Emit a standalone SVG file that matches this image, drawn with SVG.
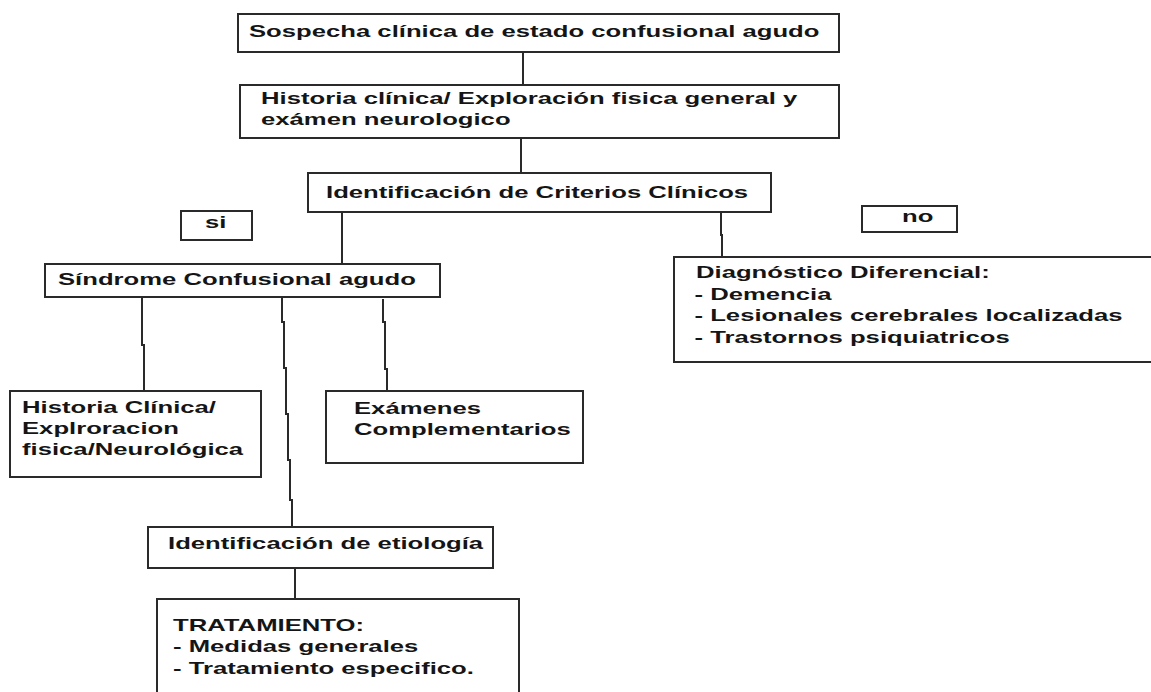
<svg xmlns="http://www.w3.org/2000/svg" width="1151" height="692" viewBox="0 0 1151 692">
<style>
.box{fill:#fff;stroke:#2a2a2a;stroke-width:2}
.ln{fill:none;stroke:#2a2a2a;stroke-width:2}
.t{font-family:"Liberation Sans",Arial,sans-serif;font-weight:bold;font-size:17px;fill:#151515}
</style>
<rect width="1151" height="692" fill="#fff"/>
<g id="connectors">
<polyline class="ln" points="523,52 523,86"/>
<polyline class="ln" points="521,138 521,173"/>
<polyline class="ln" points="342,212 342,264"/>
<polyline class="ln" points="721,212 721,235 722,235 722,257"/>
<polyline class="ln" points="142,297 142,345 144,345 144,391"/>
<polyline class="ln" points="282,297 282,322 284,322 284,368 286,368 286,414 288,414 288,460 290,460 290,500 292,500 292,527"/>
<polyline class="ln" points="383,299 383,322 385,322 385,369 387,369 387,391"/>
<polyline class="ln" points="295,568 295,599"/>
</g>
<g id="n1">
<rect class="box" x="238" y="14" width="601" height="38"/>
<text class="t" transform="translate(249,37) scale(1.51,1)">Sospecha clínica de estado confusional agudo</text>
</g>
<g id="n2">
<rect class="box" x="240" y="85" width="599" height="53"/>
<text class="t" transform="translate(261,104) scale(1.51,1)"><tspan x="0" y="0">Historia clínica/ Exploración fisica general y</tspan><tspan x="0" y="21">exámen neurologico</tspan></text>
</g>
<g id="n3">
<rect class="box" x="308" y="173" width="463" height="39"/>
<text class="t" transform="translate(326,198) scale(1.51,1)">Identificación de Criterios Clínicos</text>
</g>
<g id="si">
<rect class="box" x="181" y="211" width="71" height="29"/>
<text class="t" transform="translate(205,228) scale(1.51,1)">si</text>
</g>
<g id="no">
<rect class="box" x="862" y="206" width="95" height="26"/>
<text class="t" transform="translate(902,222) scale(1.51,1)">no</text>
</g>
<g id="n4">
<rect class="box" x="45" y="264" width="395" height="33"/>
<text class="t" transform="translate(58,285) scale(1.51,1)">Síndrome Confusional agudo</text>
</g>
<g id="n5">
<rect class="box" x="674" y="257" width="490" height="105"/>
<text class="t" transform="translate(696,278) scale(1.51,1)"><tspan x="0" y="0">Diagnóstico Diferencial:</tspan><tspan x="-1" y="21.7">- Demencia</tspan><tspan x="-1" y="43.4">- Lesionales cerebrales localizadas</tspan><tspan x="-1" y="65">- Trastornos psiquiatricos</tspan></text>
</g>
<g id="n6">
<rect class="box" x="10" y="391" width="251" height="86"/>
<text class="t" transform="translate(22,413) scale(1.51,1)"><tspan x="0" y="0">Historia Clínica/</tspan><tspan x="0" y="21">Explroracion</tspan><tspan x="0" y="42">fisica/Neurológica</tspan></text>
</g>
<g id="n7">
<rect class="box" x="326" y="391" width="257" height="72"/>
<text class="t" transform="translate(354,414) scale(1.51,1)"><tspan x="0" y="0">Exámenes</tspan><tspan x="0" y="21">Complementarios</tspan></text>
</g>
<g id="n8">
<rect class="box" x="148" y="527" width="345" height="41"/>
<text class="t" transform="translate(168,549) scale(1.51,1)">Identificación de etiología</text>
</g>
<g id="n9">
<rect class="box" x="157" y="599" width="362" height="110"/>
<text class="t" transform="translate(173,631) scale(1.51,1)"><tspan x="0" y="0">TRATAMIENTO:</tspan><tspan x="0" y="21.5">- Medidas generales</tspan><tspan x="0" y="43">- Tratamiento especifico.</tspan></text>
</g>
</svg>
